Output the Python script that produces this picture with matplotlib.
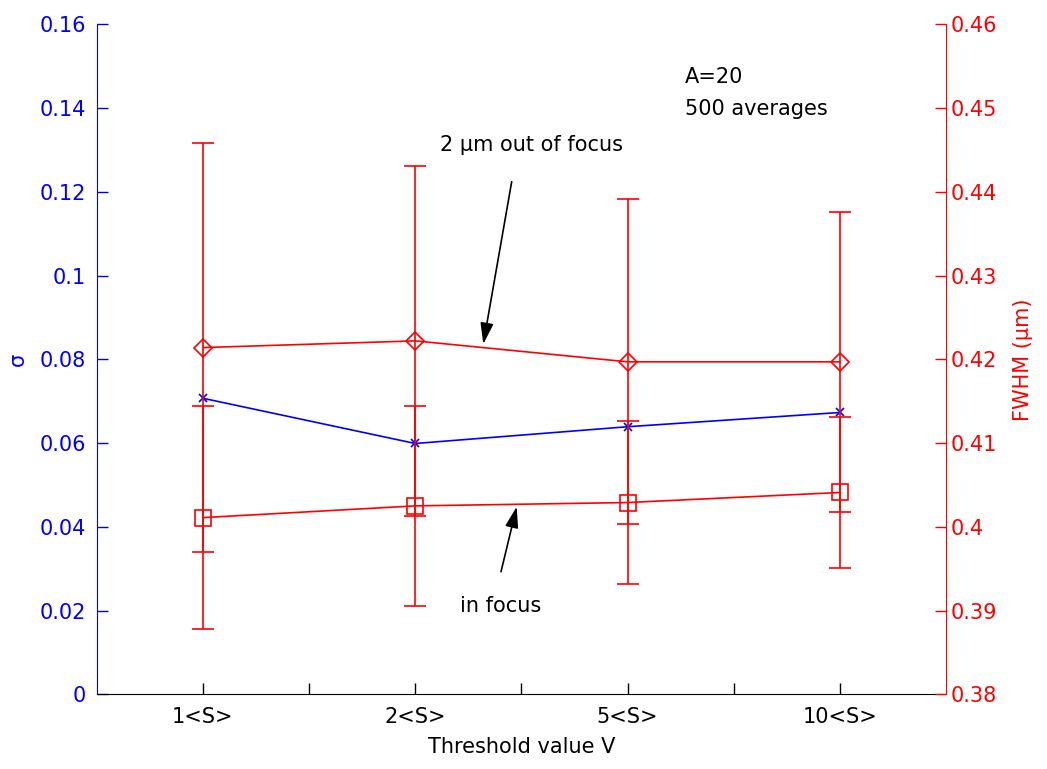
import matplotlib
matplotlib.use("Agg")
import matplotlib.pyplot as plt
import numpy as np

plt.rcParams['font.family'] = ['DejaVu Sans']

# Threshold settings
categories = ["1<S>", "2<S>", "5<S>", "10<S>"]

# sigma (left axis)
sigma = [0.0707, 0.0599, 0.0639, 0.0673]

# FWHM in µm (right axis): 2 µm out of focus, and in focus
fwhm_out = [0.4214, 0.4222, 0.4197, 0.4197]
fwhm_out_err = [0.0244, 0.0209, 0.0194, 0.0179]
fwhm_in = [0.4011, 0.4025, 0.4029, 0.4041]
fwhm_in_err = [0.0133, 0.0119, 0.0097, 0.0090]

BLUE = "#0000ff"
RED = "#ff0000"
FS = 15

x = np.arange(1, len(categories) + 1)

fig = plt.figure(figsize=(10.47, 7.69), dpi=100)
ax = fig.add_axes([0.0924, 0.0971, 0.8111, 0.8713])
ax2 = ax.twinx()

# left axis: sigma
ax.plot(x, sigma, color=BLUE, lw=1.2, marker="x", ms=6, mew=1.2, zorder=3)
ax.set_xlim(0.5, 4.5)
ax.set_ylim(0, 0.16)
ax.set_yticks(np.arange(0, 0.161, 0.02))
ax.set_yticklabels(["0"] + [f"{v:g}" for v in np.arange(0.02, 0.161, 0.02)])
ax.set_xticks(x)
ax.set_xticklabels(categories)
ax.set_xticks([1.5, 2.5, 3.5], minor=True)
ax.tick_params(axis="x", which="both", direction="in", length=8, width=1,
               labelsize=FS, pad=9, colors="black")
ax.tick_params(axis="y", direction="in", length=8, width=1, labelsize=FS,
               pad=8, colors=BLUE)
ax.set_ylabel("σ", color=BLUE, fontsize=FS, labelpad=8)
ax.set_xlabel("Threshold value V", fontsize=FS, labelpad=7)

# right axis: FWHM with error bars
ax2.errorbar(x, fwhm_out, yerr=fwhm_out_err, color=RED, lw=1.2, elinewidth=1.2,
             capsize=8, capthick=1.2, marker="D", ms=9, mfc="none", mec=RED, mew=1.2)
ax2.errorbar(x, fwhm_in, yerr=fwhm_in_err, color=RED, lw=1.2, elinewidth=1.2,
             capsize=8, capthick=1.2, marker="s", ms=11, mfc="none", mec=RED, mew=1.2)
ax2.set_ylim(0.38, 0.46)
right_ticks = np.arange(0.38, 0.461, 0.01)
ax2.set_yticks(right_ticks)
ax2.set_yticklabels([f"{v:.2f}".rstrip("0") for v in right_ticks])
ax2.tick_params(axis="y", direction="in", length=8, width=1, labelsize=FS,
                pad=3, colors=RED)
ax2.set_ylabel("FWHM (μm)", color=RED, fontsize=FS, labelpad=12)

# spines
for a in (ax, ax2):
    a.spines["top"].set_visible(False)
    a.spines["bottom"].set_color("black")
ax.spines["left"].set_color(BLUE)
ax.spines["right"].set_visible(False)
ax2.spines["left"].set_visible(False)
ax2.spines["right"].set_color(RED)
ax2.spines["bottom"].set_visible(False)

# annotations
fig.text(685 / 1047, 1 - 83 / 769, "A=20", fontsize=FS, va="baseline")
fig.text(685 / 1047, 1 - 115 / 769, "500 averages", fontsize=FS, va="baseline")

arrow = dict(arrowstyle="-|>,head_length=0.8,head_width=0.25", color="black",
             lw=1.2, mutation_scale=16, shrinkA=0, shrinkB=0)
ax2.annotate("", xy=(483.3 / 1047, 1 - 344 / 769), xycoords="figure fraction",
             xytext=(511.7 / 1047, 1 - 181.7 / 769), textcoords="figure fraction",
             arrowprops=arrow)
ax2.annotate("", xy=(516.7 / 1047, 1 - 506.7 / 769), xycoords="figure fraction",
             xytext=(501 / 1047, 1 - 571.7 / 769), textcoords="figure fraction",
             arrowprops=arrow)
fig.text(440 / 1047, 1 - 145 / 769, "2 μm out of focus", fontsize=FS, va="center")
fig.text(460 / 1047, 1 - 606 / 769, "in focus", fontsize=FS, va="center")

fig.savefig("out.png", dpi=100)
